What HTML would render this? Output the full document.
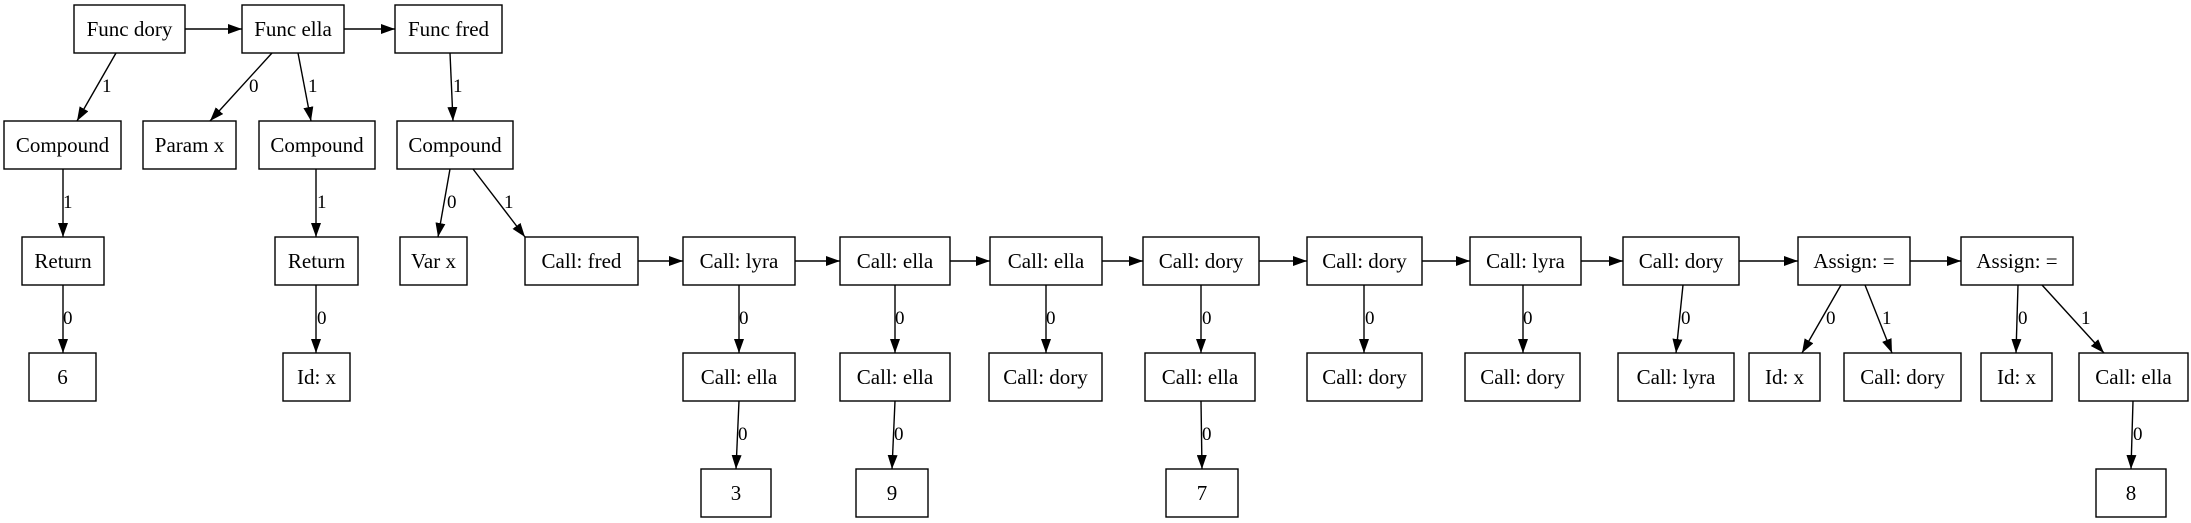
<!DOCTYPE html>
<html><head><meta charset="utf-8"><style>
html,body{margin:0;padding:0;background:#fff;}
svg{display:block;}
text{font-family:"Liberation Serif","DejaVu Serif",serif;font-size:21px;fill:#000;}
.b{fill:#fff;stroke:#000;stroke-width:1.4;}
.e{stroke:#000;stroke-width:1.4;fill:none;}
</style></head><body>
<svg width="2191" height="523" viewBox="0 0 2191 523" xmlns="http://www.w3.org/2000/svg">
<defs><marker id="a" markerWidth="14" markerHeight="10" refX="14" refY="5" orient="auto" markerUnits="userSpaceOnUse"><path d="M0,0 L14,5 L0,10 z" fill="#000"/></marker></defs>
<g id="boxes">
<rect class="b" x="74" y="5" width="111" height="48"/><text x="129.5" y="36" text-anchor="middle">Func dory</text>
<rect class="b" x="242" y="5" width="102" height="48"/><text x="293" y="36" text-anchor="middle">Func ella</text>
<rect class="b" x="395" y="5" width="107" height="48"/><text x="448.5" y="36" text-anchor="middle">Func fred</text>

<rect class="b" x="4" y="121" width="117" height="48"/><text x="62.5" y="152" text-anchor="middle">Compound</text>
<rect class="b" x="143" y="121" width="93" height="48"/><text x="189.5" y="152" text-anchor="middle">Param x</text>
<rect class="b" x="259" y="121" width="116" height="48"/><text x="317" y="152" text-anchor="middle">Compound</text>
<rect class="b" x="397" y="121" width="116" height="48"/><text x="455" y="152" text-anchor="middle">Compound</text>

<rect class="b" x="22" y="237" width="82" height="48"/><text x="63" y="268" text-anchor="middle">Return</text>
<rect class="b" x="275" y="237" width="83" height="48"/><text x="316.5" y="268" text-anchor="middle">Return</text>
<rect class="b" x="400" y="237" width="67" height="48"/><text x="433.5" y="268" text-anchor="middle">Var x</text>
<rect class="b" x="525" y="237" width="113" height="48"/><text x="581.5" y="268" text-anchor="middle">Call: fred</text>
<rect class="b" x="683" y="237" width="112" height="48"/><text x="739" y="268" text-anchor="middle">Call: lyra</text>
<rect class="b" x="840" y="237" width="110" height="48"/><text x="895" y="268" text-anchor="middle">Call: ella</text>
<rect class="b" x="990" y="237" width="112" height="48"/><text x="1046" y="268" text-anchor="middle">Call: ella</text>
<rect class="b" x="1143" y="237" width="116" height="48"/><text x="1201" y="268" text-anchor="middle">Call: dory</text>
<rect class="b" x="1307" y="237" width="115" height="48"/><text x="1364.5" y="268" text-anchor="middle">Call: dory</text>
<rect class="b" x="1470" y="237" width="111" height="48"/><text x="1525.5" y="268" text-anchor="middle">Call: lyra</text>
<rect class="b" x="1623" y="237" width="116" height="48"/><text x="1681" y="268" text-anchor="middle">Call: dory</text>
<rect class="b" x="1798" y="237" width="112" height="48"/><text x="1854" y="268" text-anchor="middle">Assign: =</text>
<rect class="b" x="1961" y="237" width="112" height="48"/><text x="2017" y="268" text-anchor="middle">Assign: =</text>

<rect class="b" x="29" y="353" width="67" height="48"/><text x="62.5" y="384" text-anchor="middle">6</text>
<rect class="b" x="283" y="353" width="67" height="48"/><text x="316.5" y="384" text-anchor="middle">Id: x</text>
<rect class="b" x="683" y="353" width="112" height="48"/><text x="739" y="384" text-anchor="middle">Call: ella</text>
<rect class="b" x="840" y="353" width="110" height="48"/><text x="895" y="384" text-anchor="middle">Call: ella</text>
<rect class="b" x="989" y="353" width="113" height="48"/><text x="1045.5" y="384" text-anchor="middle">Call: dory</text>
<rect class="b" x="1145" y="353" width="110" height="48"/><text x="1200" y="384" text-anchor="middle">Call: ella</text>
<rect class="b" x="1307" y="353" width="115" height="48"/><text x="1364.5" y="384" text-anchor="middle">Call: dory</text>
<rect class="b" x="1465" y="353" width="115" height="48"/><text x="1522.5" y="384" text-anchor="middle">Call: dory</text>
<rect class="b" x="1618" y="353" width="116" height="48"/><text x="1676" y="384" text-anchor="middle">Call: lyra</text>
<rect class="b" x="1749" y="353" width="71" height="48"/><text x="1784.5" y="384" text-anchor="middle">Id: x</text>
<rect class="b" x="1844" y="353" width="117" height="48"/><text x="1902.5" y="384" text-anchor="middle">Call: dory</text>
<rect class="b" x="1981" y="353" width="71" height="48"/><text x="2016.5" y="384" text-anchor="middle">Id: x</text>
<rect class="b" x="2079" y="353" width="109" height="48"/><text x="2133.5" y="384" text-anchor="middle">Call: ella</text>

<rect class="b" x="701" y="469" width="70" height="48"/><text x="736" y="500" text-anchor="middle">3</text>
<rect class="b" x="856" y="469" width="72" height="48"/><text x="892" y="500" text-anchor="middle">9</text>
<rect class="b" x="1166" y="469" width="72" height="48"/><text x="1202" y="500" text-anchor="middle">7</text>
<rect class="b" x="2096" y="469" width="70" height="48"/><text x="2131" y="500" text-anchor="middle">8</text>
</g>
<g class="edges">
<line class="e" x1="185" y1="29" x2="242" y2="29" marker-end="url(#a)"/>
<line class="e" x1="344" y1="29" x2="395" y2="29" marker-end="url(#a)"/>
<line class="e" x1="116" y1="53" x2="77" y2="121" marker-end="url(#a)"/>
<line class="e" x1="272" y1="53" x2="210" y2="121" marker-end="url(#a)"/>
<line class="e" x1="298" y1="53" x2="311" y2="121" marker-end="url(#a)"/>
<line class="e" x1="450" y1="53" x2="453" y2="121" marker-end="url(#a)"/>
<line class="e" x1="63" y1="169" x2="63" y2="237" marker-end="url(#a)"/>
<line class="e" x1="316" y1="169" x2="316" y2="237" marker-end="url(#a)"/>
<line class="e" x1="450" y1="169" x2="438" y2="237" marker-end="url(#a)"/>
<line class="e" x1="473" y1="169" x2="525" y2="237" marker-end="url(#a)"/>
<line class="e" x1="63" y1="285" x2="63" y2="353" marker-end="url(#a)"/>
<line class="e" x1="316" y1="285" x2="316" y2="353" marker-end="url(#a)"/>
<line class="e" x1="638" y1="261" x2="683" y2="261" marker-end="url(#a)"/>
<line class="e" x1="795" y1="261" x2="840" y2="261" marker-end="url(#a)"/>
<line class="e" x1="950" y1="261" x2="990" y2="261" marker-end="url(#a)"/>
<line class="e" x1="1102" y1="261" x2="1143" y2="261" marker-end="url(#a)"/>
<line class="e" x1="1259" y1="261" x2="1307" y2="261" marker-end="url(#a)"/>
<line class="e" x1="1422" y1="261" x2="1470" y2="261" marker-end="url(#a)"/>
<line class="e" x1="1581" y1="261" x2="1623" y2="261" marker-end="url(#a)"/>
<line class="e" x1="1739" y1="261" x2="1798" y2="261" marker-end="url(#a)"/>
<line class="e" x1="1910" y1="261" x2="1961" y2="261" marker-end="url(#a)"/>
<line class="e" x1="739" y1="285" x2="739" y2="353" marker-end="url(#a)"/>
<line class="e" x1="895" y1="285" x2="895" y2="353" marker-end="url(#a)"/>
<line class="e" x1="1046" y1="285" x2="1046" y2="353" marker-end="url(#a)"/>
<line class="e" x1="1201" y1="285" x2="1201" y2="353" marker-end="url(#a)"/>
<line class="e" x1="1364" y1="285" x2="1364" y2="353" marker-end="url(#a)"/>
<line class="e" x1="1523" y1="285" x2="1523" y2="353" marker-end="url(#a)"/>
<line class="e" x1="1683" y1="285" x2="1676" y2="353" marker-end="url(#a)"/>
<line class="e" x1="1841" y1="285" x2="1802" y2="353" marker-end="url(#a)"/>
<line class="e" x1="1865" y1="285" x2="1892" y2="353" marker-end="url(#a)"/>
<line class="e" x1="2018" y1="285" x2="2016" y2="353" marker-end="url(#a)"/>
<line class="e" x1="2042" y1="285" x2="2104" y2="353" marker-end="url(#a)"/>
<line class="e" x1="739" y1="401" x2="736" y2="469" marker-end="url(#a)"/>
<line class="e" x1="895" y1="401" x2="892" y2="469" marker-end="url(#a)"/>
<line class="e" x1="1201" y1="401" x2="1202" y2="469" marker-end="url(#a)"/>
<line class="e" x1="2133" y1="401" x2="2131" y2="469" marker-end="url(#a)"/>
</g>
<g style="font-size:19px">
<text x="102" y="92" style="font-size:19px">1</text>
<text x="249" y="92" style="font-size:19px">0</text>
<text x="308" y="92" style="font-size:19px">1</text>
<text x="453" y="92" style="font-size:19px">1</text>
<text x="63" y="208" style="font-size:19px">1</text>
<text x="317" y="208" style="font-size:19px">1</text>
<text x="447" y="208" style="font-size:19px">0</text>
<text x="504" y="208" style="font-size:19px">1</text>
<text x="63" y="324" style="font-size:19px">0</text>
<text x="317" y="324" style="font-size:19px">0</text>
<text x="739" y="324" style="font-size:19px">0</text>
<text x="895" y="324" style="font-size:19px">0</text>
<text x="1046" y="324" style="font-size:19px">0</text>
<text x="1202" y="324" style="font-size:19px">0</text>
<text x="1365" y="324" style="font-size:19px">0</text>
<text x="1523" y="324" style="font-size:19px">0</text>
<text x="1681" y="324" style="font-size:19px">0</text>
<text x="1826" y="324" style="font-size:19px">0</text>
<text x="1882" y="324" style="font-size:19px">1</text>
<text x="2018" y="324" style="font-size:19px">0</text>
<text x="2081" y="324" style="font-size:19px">1</text>
<text x="738" y="440" style="font-size:19px">0</text>
<text x="894" y="440" style="font-size:19px">0</text>
<text x="1202" y="440" style="font-size:19px">0</text>
<text x="2133" y="440" style="font-size:19px">0</text>
</g>
</svg>
</body></html>
